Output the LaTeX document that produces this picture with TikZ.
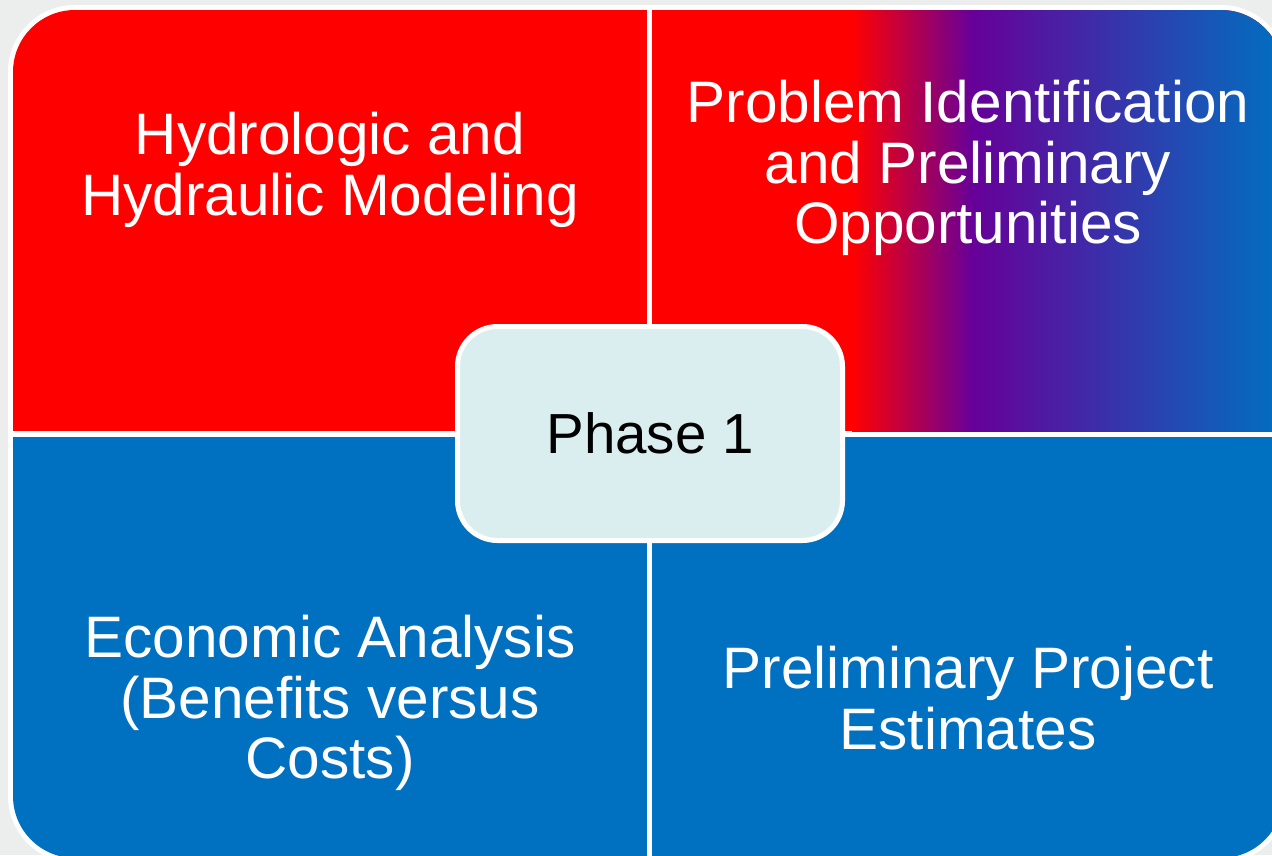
\documentclass[tikz,border=0pt]{standalone}
\usepackage{fontspec}
\setmainfont{Liberation Sans}
\usetikzlibrary{positioning}
\definecolor{pagegray}{RGB}{236,237,237}
\definecolor{quadred}{RGB}{255,0,0}
\definecolor{quadblue}{RGB}{0,112,192}
\definecolor{quadviolet}{RGB}{102,0,153}
\definecolor{hubfill}{RGB}{218,238,240}
\pgfdeclarehorizontalshading{redtoblue}{100bp}{color(0bp)=(quadred); color(25bp)=(quadred); color(39bp)=(quadviolet); color(75bp)=(quadblue); color(100bp)=(quadblue)}
\tikzset{
  quadtext/.style={
    align=center,
    text=white,
    inner sep=0pt,
    font=\fontsize{58.5}{60.5}\selectfont,
  },
  hubblock/.style={
    rectangle,
    rounded corners=40pt,
    minimum width=385pt,
    minimum height=214pt,
    fill=hubfill,
    draw=white,
    line width=5pt,
    font=\fontsize{56.5}{60}\selectfont,
  },
}

\begin{document}
\begin{tikzpicture}[x=1pt, y=-1pt]
    % page and outer white rim
    \fill[pagegray] (0,0) rectangle (1272,855);
    \useasboundingbox (0,0) rectangle (1272,855);
    \fill[white, rounded corners=67pt] (8,5) rectangle (1288,863);
    % the four quadrants
    \begin{scope}
      \clip[rounded corners=62pt] (13,10) rectangle (1283,858);
      \fill[quadred] (13,10) rectangle (647,431);
      \fill[quadred] (652,10) rectangle (1283,431);
      \shade[shading=redtoblue] (852,10) rectangle (1283,431);
      \fill[quadblue] (13,437) rectangle (647,858);
      \fill[quadblue] (652,437) rectangle (1283,858);
    \end{scope}
    \node (1) [quadtext] at (330,170) {Hydrologic and\\Hydraulic Modeling};
    \node (2) [quadtext] at (968,168) {Problem Identification\\and Preliminary\\Opportunities};
    \node (3) [quadtext] at (330,703) {Economic Analysis\\(Benefits versus\\Costs)};
    \node (4) [quadtext] at (968,698) {Preliminary Project\\Estimates};
    \node (5) [hubblock] at (650,433.5) {Phase 1};
\end{tikzpicture}
\end{document}
